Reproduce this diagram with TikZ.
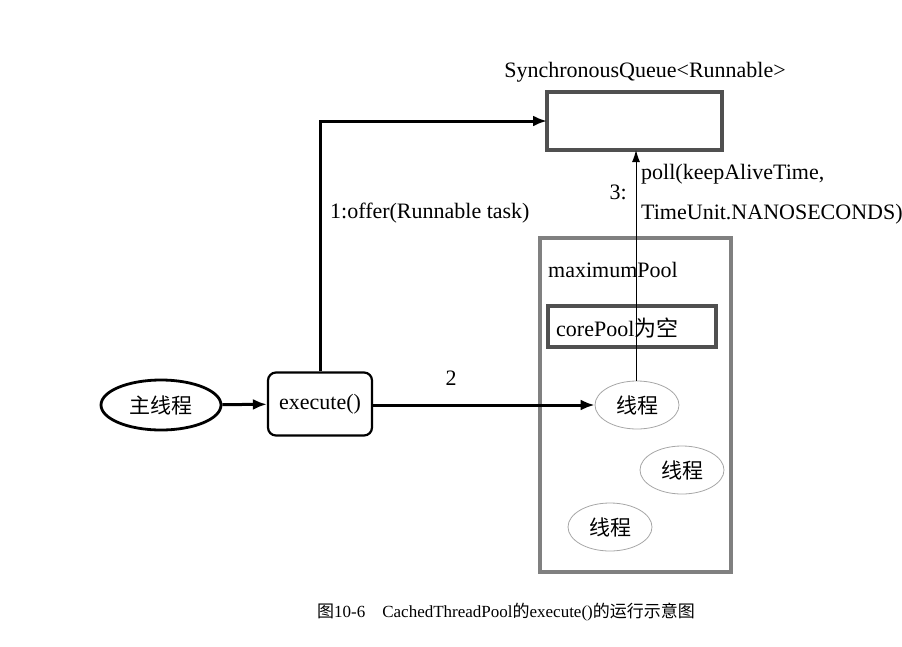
\documentclass[tikz,border=0pt]{standalone}
\usepackage{fontspec}
\setmainfont{Liberation Serif}
\newfontfamily\cjk{Noto Sans CJK SC}
\usetikzlibrary{arrows.meta, shapes.geometric, positioning}
\definecolor{boxgray}{HTML}{505050}
\definecolor{poolgray}{HTML}{808080}
\tikzset{
  txt/.style={inner sep=0pt, font=\fontsize{22}{26}\selectfont},
  mainthread/.style={
    ellipse, draw=black, line width=2.8pt, minimum width=120pt, minimum height=50pt,
    inner sep=0pt, font=\fontsize{21}{24}\selectfont\cjk
  },
  worker/.style={
    ellipse, draw=gray!70, line width=0.8pt, minimum width=84pt, minimum height=48pt,
    inner sep=0pt, font=\fontsize{21}{24}\selectfont\cjk
  },
  callbox/.style={
    rectangle, rounded corners=8pt, draw=black, line width=2.2pt,
    minimum width=104pt, minimum height=63pt, font=\fontsize{22}{26}\selectfont
  },
  arrow/.style={
    -{Latex[length=14pt,width=11pt]}, line width=3pt, color=black
  },
  thinarrow/.style={
    -{Latex[length=12pt,width=8pt]}, line width=1pt, color=black
  }
}

\begin{document}
\begin{tikzpicture}[x=1pt, y=-1pt]
\useasboundingbox (0,0) rectangle (902,646);
% pool and queue
\draw[poolgray, line width=3.2pt] (540,238) rectangle (731,572);
\node[txt, anchor=west] (poolname) at (548,270) {maximumPool};
\draw[boxgray, line width=3.2pt] (547,92) rectangle (722,150);
\coordinate (queuein) at (547,121);
\coordinate (queueout) at (636,150);
\node[txt] (queuename) at (645,72) {SynchronousQueue<Runnable>};
\draw[boxgray, line width=3.2pt] (548,306) rectangle (716,347);
\node[txt, anchor=west] (core) at (556,328) {corePool{\cjk 为空}};

% threads
\node[mainthread] (main) at (161,405) {主线程};
\node[callbox] (exec) at (320,404) {execute()};
\node[worker] (w1) at (637,405) {线程};
\node[worker] (w2) at (682,470) {线程};
\node[worker] (w3) at (610,527) {线程};

% calls
\draw[arrow] (main) -- (exec);
\draw[arrow] (exec.north) |- (queuein);
\node[txt, anchor=west] (offer) at (330,213) {1:offer(Runnable task)};
\draw[arrow] (exec.east |- w1) -- (w1.west);
\node[txt] (two) at (451,378) {2};
\draw[thinarrow] (w1.north -| queueout) -- (queueout);
\node[txt, anchor=east] (three) at (627,192) {3:};
\node[txt, anchor=west] (poll) at (641,174) {poll(keepAliveTime,};
\node[txt, anchor=west] (unit) at (641,214) {TimeUnit.NANOSECONDS)};

\node[inner sep=0pt, font=\fontsize{17}{20}\selectfont] (caption) at (506,612)
  {{\cjk 图}10-6\quad CachedThreadPool{\cjk 的}execute(){\cjk 的运行示意图}};
\end{tikzpicture}
\end{document}
